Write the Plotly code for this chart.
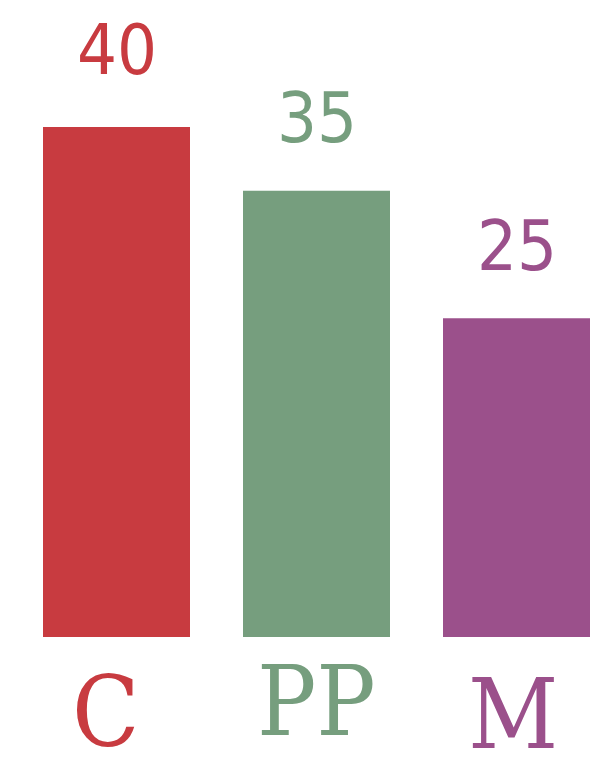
import plotly.graph_objects as go

categories = ["C", "PP", "M"]
values = [40, 35, 25]
colors = ["#C83B40", "#769E7E", "#9B508B"]
label_shift = [34, 30, 29]
tick_shift = [-16, -5, -18]
tick_xshift = [-11, 0, -4]

fig = go.Figure()
fig.add_trace(go.Bar(
    x=list(range(len(categories))),
    y=values,
    marker=dict(color=colors, line=dict(width=0)),
    width=0.735,
    hoverinfo="skip",
))

for i, (v, c) in enumerate(zip(values, colors)):
    fig.add_annotation(
        x=i, y=v, text=str(v), showarrow=False,
        yanchor="bottom", yshift=label_shift[i],
        font=dict(family="Liberation Sans Narrow, DejaVu Sans Condensed, sans-serif", size=70, color=c),
    )
    fig.add_annotation(
        x=i, y=0, yref="y", text=categories[i], showarrow=False,
        yanchor="top", yshift=tick_shift[i], xshift=tick_xshift[i],
        font=dict(family="DejaVu Serif Condensed, DejaVu Serif, serif", size=98, color=c),
    )

fig.update_layout(
    width=603, height=769,
    margin=dict(l=0, r=0, t=0, b=140),
    paper_bgcolor="white", plot_bgcolor="white",
    showlegend=False,
    xaxis=dict(range=[-0.5425, 2.4725], showticklabels=False, showgrid=False,
               zeroline=False, showline=False, ticks=""),
    yaxis=dict(range=[0, 49.33], showticklabels=False, showgrid=False,
               zeroline=False, showline=False, ticks=""),
)
fig.write_html("out.html")
